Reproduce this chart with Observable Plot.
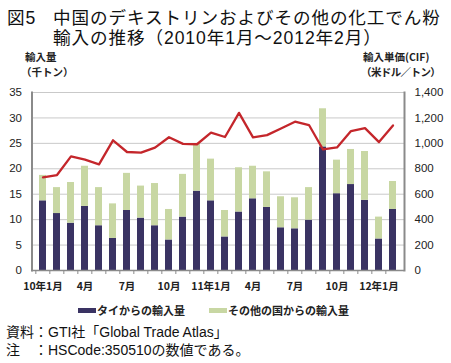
<!DOCTYPE html>
<html><head><meta charset="utf-8">
<script src="https://cdn.jsdelivr.net/npm/d3@7"></script>
<script src="https://cdn.jsdelivr.net/npm/@observablehq/plot@0.6"></script>
<style>
html,body{margin:0;padding:0;background:#fff;}
#wrap{position:relative;width:451px;height:363px;overflow:hidden;font-family:"Noto Sans CJK JP","Noto Sans",sans-serif;color:#111;}
.abs{position:absolute;white-space:nowrap;}
#chart{position:absolute;left:0;top:0;}
.title{font-family:"Liberation Sans","Noto Sans CJK JP",sans-serif;font-size:17.6px;line-height:20px;letter-spacing:0.9px;}
.axt{font-size:10.5px;font-weight:bold;color:#222;}
.leg{font-size:11px;font-weight:bold;color:#222;display:flex;align-items:center;}
.sw{display:inline-block;width:18px;height:5px;margin-right:1px;}
.foot{font-family:"Liberation Sans","Noto Sans CJK JP",sans-serif;font-size:14px;line-height:16px;color:#111;}
</style></head>
<body>
<div id="wrap">
  <div class="abs title" style="left:7px;top:8px;"><span style="display:inline-block;width:46px;">図5</span>中国のデキストリンおよびその他の化工でん粉<br><span style="display:inline-block;width:46px;"></span>輸入の推移（2010年1月～2012年2月）</div>
  <div class="abs axt" style="left:25px;top:49px;">輸入量</div>
  <div class="abs axt" style="left:21px;top:64px;">（千トン）</div>
  <div class="abs axt" style="left:363px;top:49px;">輸入単価(CIF)</div>
  <div class="abs axt" style="left:361px;top:64px;letter-spacing:-0.6px;">（米ドル／トン）</div>
  <div id="chart"></div>
  <div class="abs leg" id="leg1" style="left:78px;top:302px;"></div>
  <div class="abs leg" id="leg2" style="left:209px;top:302px;"></div>
  <div class="abs foot" style="left:6px;top:324px;">資料：GTI社「Global Trade Atlas」</div>
  <div class="abs foot" style="left:6px;top:342px;">注　：HSCode:350510の数値である。</div>
</div>
<script>
// ---- data ----
const months = ["2010-01","2010-02","2010-03","2010-04","2010-05","2010-06","2010-07","2010-08","2010-09","2010-10","2010-11","2010-12",
                "2011-01","2011-02","2011-03","2011-04","2011-05","2011-06","2011-07","2011-08","2011-09","2011-10","2011-11","2011-12",
                "2012-01","2012-02"];
const seriesNames = ["タイからの輸入量", "その他の国からの輸入量"];
const thaiVolume  = [13.7,11.2,9.3,12.6,8.8,6.3,11.8,10.3,8.8,6.0,10.5,15.6,13.7,6.6,11.5,14.1,12.4,8.4,8.2,9.9,24.3,15.1,16.9,13.8,6.2,12.0];
const otherVolume = [5.0,5.1,8.0,7.9,7.5,6.8,7.3,6.3,8.3,6.0,8.4,9.3,8.2,5.2,8.7,6.4,7.0,6.1,6.1,6.4,7.5,6.6,6.9,9.6,4.3,5.5];
const unitPrice   = [733,751,898,872,835,1024,932,927,967,1048,996,993,1085,1050,1240,1047,1065,1117,1170,1144,952,968,1097,1120,1010,1141];
const xTickMonths = ["2010-01","2010-04","2010-07","2010-10","2011-01","2011-04","2011-07","2011-10","2012-01"];
const xTickLabels = ["10年1月","4月","7月","10月","11年1月","4月","7月","10月","12年1月"];
const leftTicks  = [0,5,10,15,20,25,30,35];
const rightTicks = [0,200,400,600,800,1000,1200,1400];
const colors = ["#3a3363", "#c8d7a3"];
const lineColor = "#c4262b";

// ---- tables ----
const yMax = leftTicks[leftTicks.length-1];
const pMax = rightTicks[rightTicks.length-1];
const ratio = pMax / yMax;
const bars = [];
months.forEach((m,i)=>{
  bars.push({month:m, series:seriesNames[0], value:thaiVolume[i]});
  bars.push({month:m, series:seriesNames[1], value:otherVolume[i]});
});
const priceRows = months.map((m,i)=>({month:m, price:unitPrice[i]}));
const labelOf = new Map(xTickMonths.map((m,i)=>[m, xTickLabels[i]]));

const chart = Plot.plot({
  width: 451, height: 300,
  marginTop: 92, marginBottom: 30, marginLeft: 31.5, marginRight: 47,
  style: {fontFamily: '"Liberation Sans","Noto Sans CJK JP",sans-serif', fontSize: "11px", color: "#222", background: "transparent"},
  x: {domain: months, paddingInner: 0.5, paddingOuter: 0.25, axis: null, label: null},
  y: {domain: [0, yMax], axis: null, label: null},
  color: {domain: seriesNames, range: colors},
  marks: [
    Plot.ruleY(leftTicks.slice(1), {stroke: "#c9c9c9", strokeWidth: 1}),
    Plot.barY(bars, {x: "month", y: "value", fill: "series", order: seriesNames}),
    Plot.lineY(priceRows, {x: "month", y: d => d.price / ratio, stroke: lineColor, strokeWidth: 2.3}),
    Plot.ruleY([0], {stroke: "#8a8a8a", strokeWidth: 1.5}),
    Plot.frame({anchor: "left", stroke: "#8a8a8a", strokeWidth: 2}),
    Plot.frame({anchor: "right", stroke: "#8a8a8a", strokeWidth: 2}),
    Plot.axisX({ticks: months, tickSize: 4, tickFormat: () => "", dx: -7.16, stroke: "#8a8a8a", label: null}),
    Plot.axisX({ticks: xTickMonths, tickSize: 0, tickPadding: 12, tickFormat: d => labelOf.get(d), label: null, fontWeight: "bold", fontFamily: '"Noto Sans CJK JP",sans-serif', fontSize: 10.5, fill: "#222"}),
    Plot.axisY({anchor: "left", ticks: leftTicks, tickSize: 0, tickPadding: 10, label: null, fontSize: 11.5, fill: "#222"}),
    Plot.axisY({anchor: "right", ticks: leftTicks, tickSize: 0, tickPadding: 10, label: null, tickFormat: d => d3.format(",")(d * ratio), fontSize: 11.5, fill: "#222"})
  ]
});
document.getElementById("chart").appendChild(chart);

[["leg1",0],["leg2",1]].forEach(([id,i])=>{
  const el = document.getElementById(id);
  const sw = document.createElement("span");
  sw.className = "sw"; sw.style.background = colors[i];
  el.appendChild(sw);
  el.appendChild(document.createTextNode(seriesNames[i]));
});
</script>
</body></html>
